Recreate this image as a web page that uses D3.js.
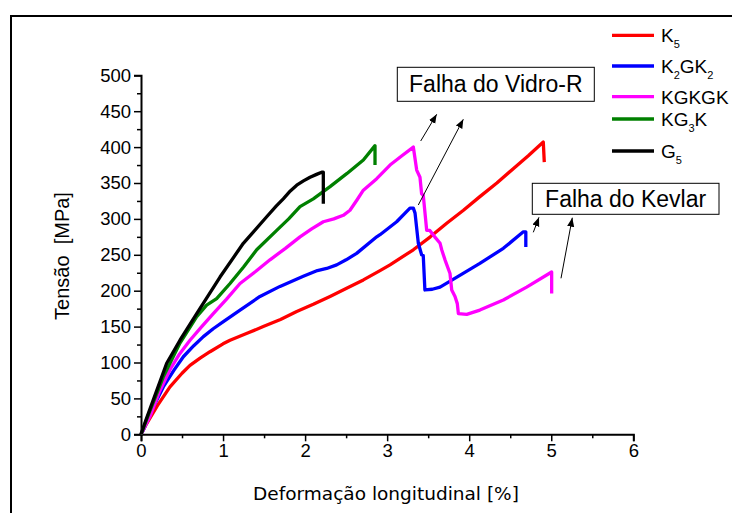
<!DOCTYPE html>
<html><head><meta charset="utf-8">
<script src="https://cdn.jsdelivr.net/npm/d3@7"></script>
<style>body{margin:0;background:#fff}svg{display:block}</style>
</head><body><svg id="c" width="732" height="513"></svg>
<script>
const xTicks = [0,1,2,3,4,5,6];
const yTicks = [0,50,100,150,200,250,300,350,400,450,500];
const seriesNames = ["K5","K2GK2","KGKGK","KG3K","G5"];
const seriesColors = ["#ff0000","#0000ff","#ff00ff","#008000","#000000"];
const K5 = [[0,0],[0.069,15],[0.2,40],[0.353,66],[0.5,85],[0.597,96],[0.72,106],[0.841,115],[1.0,126],[1.085,131],[1.3,141],[1.49,150],[1.7,160],[1.898,171],[2.1,181],[2.304,192],[2.5,203],[2.71,215],[2.913,228],[3.035,236],[3.319,257],[3.526,275],[3.726,294],[3.93,312],[4.13,331],[4.337,350],[4.537,370],[4.72,388],[4.903,407],[4.915,379]];
const K2GK2 = [[0,0],[0.028,6],[0.15,38],[0.272,66],[0.4,89],[0.516,108],[0.64,123],[0.76,136],[0.88,147],[1.004,157],[1.207,173],[1.45,192],[1.694,206],[1.978,220],[2.15,228],[2.263,231],[2.385,236],[2.5,243],[2.628,252],[2.873,275],[2.913,278],[3.116,296],[3.278,315],[3.319,315],[3.34,308],[3.38,266],[3.42,250],[3.44,249],[3.46,201],[3.55,202],[3.645,205],[3.85,219],[4.13,238],[4.416,259],[4.66,282],[4.69,282],[4.69,261]];
const KGKGK = [[0,0],[0.11,25],[0.22,58],[0.353,90],[0.47,112],[0.597,131],[0.74,150],[0.881,168],[1.04,188],[1.207,210],[1.4,227],[1.572,243],[1.76,259],[1.938,275],[2.08,286],[2.222,296],[2.35,300],[2.466,305],[2.547,312],[2.63,326],[2.71,340],[2.873,356],[3.035,375],[3.18,388],[3.319,400],[3.36,368],[3.4,358],[3.42,335],[3.44,333],[3.482,284],[3.52,284],[3.58,275],[3.645,266],[3.665,257],[3.705,243],[3.766,224],[3.787,201],[3.827,192],[3.855,182],[3.868,168],[3.97,167],[4.13,173],[4.416,187],[4.7,205],[5.005,226],[5.005,196]];
const KG3K = [[0,0],[0.1,30],[0.272,80],[0.475,127],[0.679,164],[0.8,180],[0.922,189],[1.085,210],[1.25,233],[1.41,257],[1.654,284],[1.8,300],[1.938,317],[2.1,328],[2.304,345],[2.507,363],[2.71,382],[2.852,402],[2.852,375]];
const G5 = [[0,0],[0.06,20],[0.15,48],[0.313,99],[0.475,131],[0.679,168],[0.963,219],[1.247,266],[1.532,303],[1.65,318],[1.734,328],[1.82,339],[1.898,347],[1.98,353],[2.06,358],[2.14,362],[2.202,365],[2.222,365],[2.222,321]];
const seriesData = [K5,K2GK2,KGKGK,KG3K,G5];
const legendLabels = [["K","5"],["K","2","GK","2"],["KGKGK"],["KG","3","K"],["G","5"]];

const svg = d3.select("#c");
const x = d3.scaleLinear().domain([0,6]).range([141,633.3]);
const y = d3.scaleLinear().domain([0,500]).range([434.3,75.3]);

svg.append("path").attr("d","M11,520 L11,16 L740,16").attr("fill","none").attr("stroke","#000").attr("stroke-width",2);

const FONT = "Liberation Sans, Arial, sans-serif";
const xAxis = svg.append("g").attr("transform","translate(0,434.3)")
  .call(d3.axisBottom(x).tickValues(xTicks).tickSize(7).tickPadding(3).tickFormat(d3.format("d")));
const xMinor = svg.append("g").attr("transform","translate(0,434.3)")
  .call(d3.axisBottom(x).tickValues(d3.range(0.5,6,1)).tickSize(4).tickFormat(""));
const yAxis = svg.append("g").attr("transform","translate(141,0)")
  .call(d3.axisLeft(y).tickValues(yTicks).tickSize(7).tickPadding(3).tickFormat(d3.format("d")));
const yMinor = svg.append("g").attr("transform","translate(141,0)")
  .call(d3.axisLeft(y).tickValues(d3.range(25,500,50)).tickSize(4).tickFormat(""));
[xAxis,xMinor,yAxis,yMinor].forEach(g=>{
  g.select(".domain").attr("stroke","#000").attr("stroke-width",2);
  g.selectAll(".tick line").attr("stroke","#000").attr("stroke-width",1.5);
  g.selectAll("text").attr("font-family",FONT).attr("font-size",18.5).attr("fill","#000");
});
xMinor.select(".domain").remove(); yMinor.select(".domain").remove();

const line = d3.line().x(d=>x(d[0])).y(d=>y(d[1]));
seriesData.forEach((s,i)=>{
  svg.append("path").datum(s).attr("d",line).attr("fill","none")
    .attr("stroke",seriesColors[i]).attr("stroke-width",3.3).attr("stroke-linejoin","round");
});

svg.append("text").attr("x",386).attr("y",500).attr("text-anchor","middle")
  .attr("font-family","DejaVu Sans, Verdana, sans-serif").attr("font-size",18.5).text("Deformação longitudinal [%]");
svg.append("text").attr("transform","translate(69,256) rotate(-90)").attr("text-anchor","middle")
  .attr("font-family",FONT).attr("font-size",20).attr("xml:space","preserve").text("Tensão  [MPa]");

const legY = [35.3,66,96.7,119,151];
legendLabels.forEach((lab,i)=>{
  svg.append("line").attr("x1",612).attr("x2",654).attr("y1",legY[i]).attr("y2",legY[i])
    .attr("stroke",seriesColors[i]).attr("stroke-width",3.3);
  const t = svg.append("text").attr("x",661).attr("y",legY[i]+7).attr("font-family",FONT).attr("font-size",19);
  lab.forEach((part,j)=>{
    const isSub = /^\d$/.test(part);
    const ts = t.append("tspan").text(part);
    if(isSub){ ts.attr("font-size",11).attr("dy",6); }
    else if(j>0){ ts.attr("dy",-6); }
  });
});

const defs = svg.append("defs");
defs.append("marker").attr("id","ah").attr("viewBox","0 0 10 10").attr("refX",10).attr("refY",5)
  .attr("markerWidth",9).attr("markerHeight",9).attr("markerUnits","userSpaceOnUse").attr("orient","auto")
  .append("path").attr("d","M0,1 L10,5 L0,9 Z").attr("fill","#000");
function box(x0,y0,x1,y1,label){
  svg.append("rect").attr("x",x0).attr("y",y0).attr("width",x1-x0).attr("height",y1-y0)
    .attr("fill","#fff").attr("stroke","#000").attr("stroke-width",1);
  svg.append("text").attr("x",(x0+x1)/2).attr("y",(y0+y1)/2+8).attr("text-anchor","middle")
    .attr("font-family",FONT).attr("font-size",23).text(label);
}
box(397.3,67.3,594.3,101.3,"Falha do Vidro-R");
box(532.3,183.3,719,214.3,"Falha do Kevlar");
[[420.7,141,436.7,114.3],[418.3,205,463.3,119.3],[533.3,232.3,539,217.3],[561,278.3,572.3,217.7]].forEach(a=>{
  svg.append("line").attr("x1",a[0]).attr("y1",a[1]).attr("x2",a[2]).attr("y2",a[3])
    .attr("stroke","#000").attr("stroke-width",1).attr("marker-end","url(#ah)");
});
</script></body></html>
